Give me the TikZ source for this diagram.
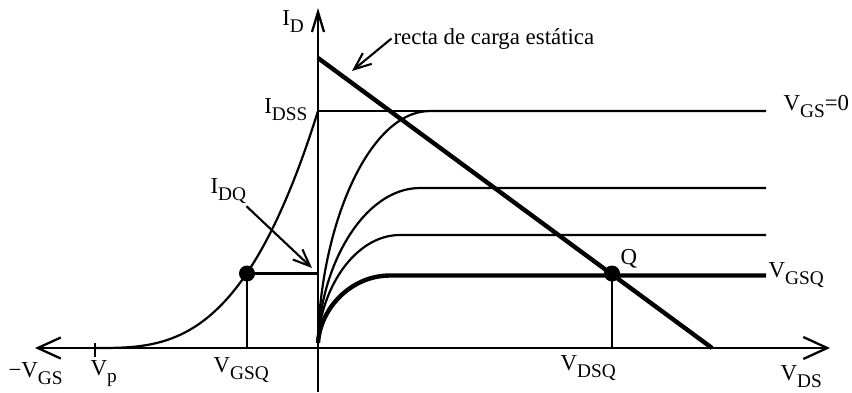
\documentclass[tikz,border=0pt]{standalone}
\usepackage{fontspec}
\setmainfont{Liberation Serif}
\usepackage{tikz}
\usetikzlibrary{arrows.meta,positioning,calc}
\newcommand{\SB}[2]{#1\raisebox{-4.5pt}{\fontsize{11}{11}\selectfont #2}}

\begin{document}
\begin{tikzpicture}[x=1cm,y=1cm,
  thinln/.style={line width=1.25pt},
  thickln/.style={line width=2.5pt},
  lbl/.style={inner sep=1pt,font=\fontsize{13}{15}\selectfont},
  annot/.style={-{Straight Barb[length=3.4mm,width=2.8mm,line width=1.2pt]},line width=1.2pt}]
  \useasboundingbox (0,0) rectangle (17.04,7.84);

  % axes
  \coordinate (xl) at (0.70,0.88);
  \coordinate (xr) at (16.60,0.88);
  \coordinate (yb) at (6.36,0.00);
  \coordinate (yt) at (6.36,7.68);
  \draw[thinln,{Straight Barb[length=4.6mm,width=4.2mm,line width=1.3pt]}-{Straight Barb[length=4.8mm,width=4.4mm,line width=1.3pt]}] (xl) -- (xr);
  \draw[thinln,-{Straight Barb[length=4mm,width=2.4mm,line width=1.3pt]}] (yb) -- (yt);

  % points
  \coordinate (vp) at (1.90,0.88);
  \coordinate (gsq) at (4.94,0.88);
  \coordinate (dsq) at (12.24,0.88);
  \coordinate (qg) at (4.94,2.37);
  \coordinate (qa) at (6.36,2.37);
  \coordinate (Q) at (12.24,2.37);
  \coordinate (idss) at (6.36,5.62);
  \coordinate (lt) at (6.36,6.68);
  \coordinate (lb) at (14.24,0.88);

  % Vp tick
  \draw[thinln] (1.90,0.98) -- (1.90,0.70);

  % transfer curve
  \draw[thinln] plot[domain=0:1,samples=50,smooth] ({1.90+4.46*\x},{0.88+4.74*\x*\x*\x});

  % output curves
  \draw[thinln] (idss) -- (15.30,5.62);
  \foreach \xs/\ys in {8.60/5.62,8.40/4.08,8.00/3.14}
    \draw[thinln] (6.36,0.98) .. controls (6.40,{0.98+0.5*(\ys-0.98)}) and ({6.36+0.45*(\xs-6.36)},\ys) .. (\xs,\ys) -- (15.32,\ys);
  \draw[thickln] (6.36,0.98) .. controls (6.40,1.66) and (7.01,2.33) .. (7.80,2.33) -- (15.32,2.33);

  % Q lines
  \draw[thinln] (gsq) -- (qg) -- (qa);
  \draw[thinln] (dsq) -- (Q);
  \fill (qg) circle (0.16);
  \fill (Q) circle (0.16);

  % load line
  \draw[thickln] (lt) -- (lb);

  % labels
  \node[lbl,anchor=base east] (idl) at (6.12,7.34) {\SB{I}{D}};
  \node[lbl,anchor=base west] (recta) at (7.83,6.96) {recta de carga estática};
  \node[lbl,anchor=base east] (idssl) at (6.19,5.58) {\SB{I}{DSS}};
  \node[lbl,anchor=base west] (idql) at (4.17,3.98) {\SB{I}{DQ}};
  \node[lbl,anchor=base west] (mvgs) at (0.13,0.30) {−\SB{V}{GS}};
  \node[lbl,anchor=base west] (vpl) at (1.77,0.34) {\SB{V}{p}};
  \node[lbl,anchor=base west] (vgsql) at (4.23,0.40) {\SB{V}{GSQ}};
  \node[lbl,anchor=base west] (vdsql) at (11.17,0.44) {\SB{V}{DSQ}};
  \node[lbl,anchor=base west] (vdsl) at (15.57,0.24) {\SB{V}{DS}};
  \node[lbl,anchor=base west] (vgsqr) at (15.33,2.30) {\SB{V}{GSQ}};
  \node[lbl,anchor=base west] (ql) at (12.37,2.56) {Q};
  \node[lbl,anchor=base west] (vgs0) at (15.63,5.64) {\SB{V}{GS}=0};

  % pointers
  \coordinate (rt) at (7.04,6.42);
  \coordinate (it) at (6.24,2.48);
  \draw[annot] (recta.west) -- (rt);
  \draw[annot] (idql.-40) -- (it);
\end{tikzpicture}
\end{document}
